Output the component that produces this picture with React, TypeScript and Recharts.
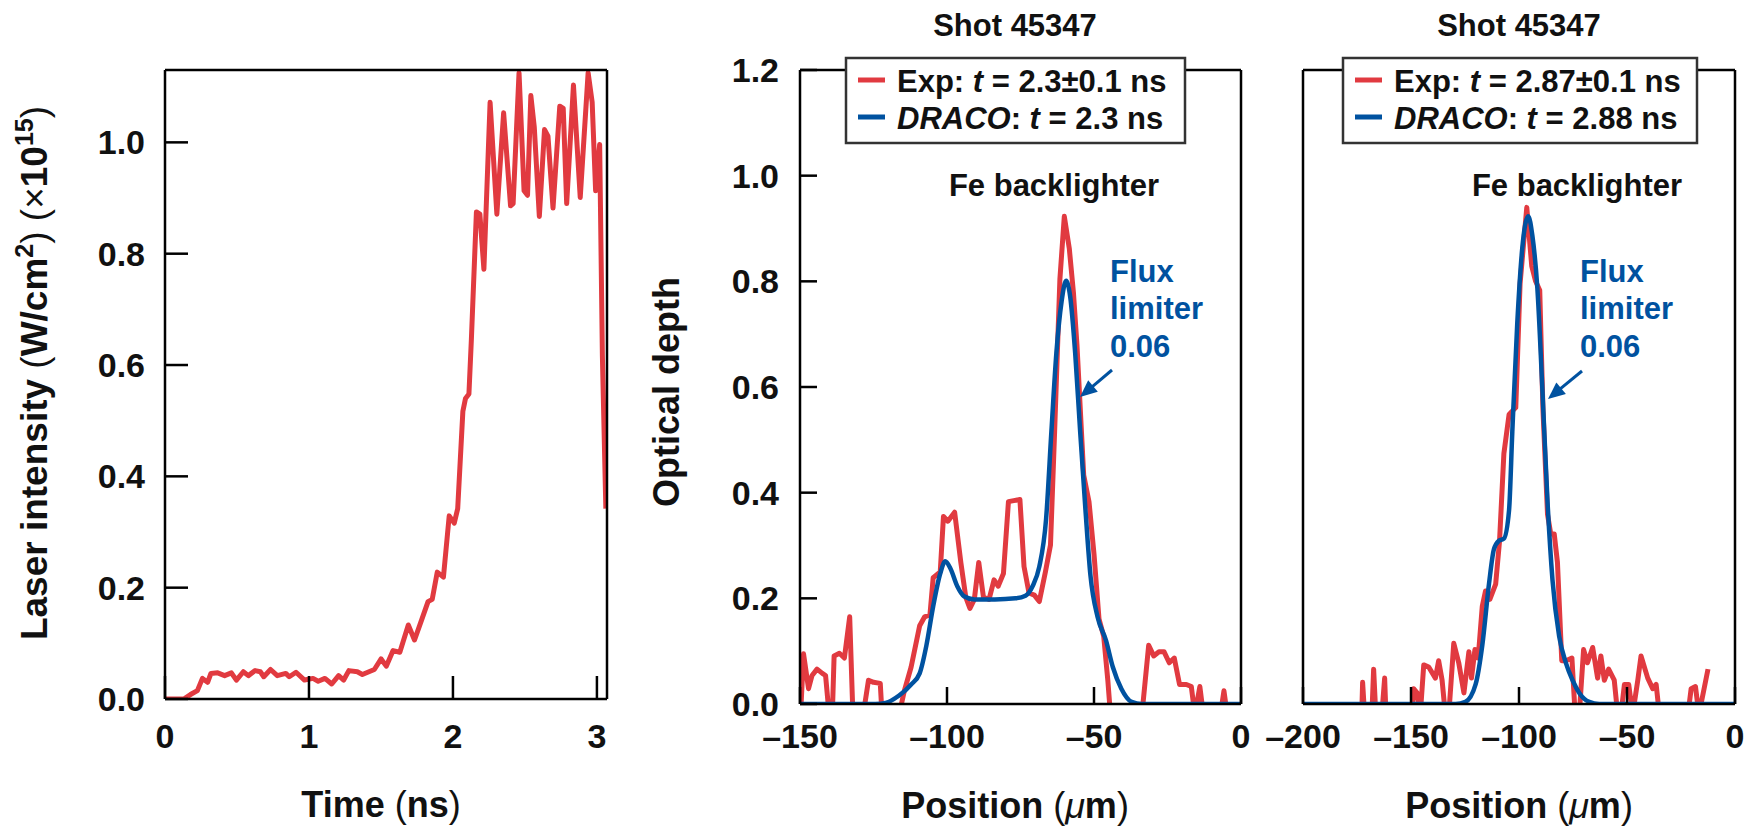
import { LineChart, Line, XAxis, YAxis } from 'recharts';

const RED = '#e13a40';
const BLUE = '#0052a0';
const FONT = '"Liberation Sans", Arial, Helvetica, sans-serif';

// Laser pulse: [time (ns), intensity (x1e15 W/cm2)]
const pulse = [
  [0, 0], [0.13, 0], [0.177, 0.008], [0.225, 0.015], [0.26, 0.037], [0.296, 0.03], [0.319, 0.046],
  [0.366, 0.047], [0.414, 0.042], [0.461, 0.047], [0.496, 0.034], [0.544, 0.049], [0.579, 0.042],
  [0.626, 0.051], [0.662, 0.049], [0.686, 0.04], [0.733, 0.053], [0.78, 0.042], [0.839, 0.046],
  [0.863, 0.04], [0.91, 0.048], [0.969, 0.034], [1.028, 0.037], [1.064, 0.032], [1.111, 0.037],
  [1.158, 0.027], [1.206, 0.042], [1.241, 0.034], [1.277, 0.051], [1.336, 0.049], [1.371, 0.044],
  [1.454, 0.053], [1.501, 0.072], [1.537, 0.059], [1.584, 0.087], [1.631, 0.084], [1.69, 0.133],
  [1.733, 0.106], [1.785, 0.144], [1.827, 0.175], [1.856, 0.179], [1.891, 0.228], [1.934, 0.219],
  [1.974, 0.329], [2.009, 0.316], [2.033, 0.342], [2.069, 0.517], [2.087, 0.54], [2.111, 0.548],
  [2.128, 0.646], [2.163, 0.875], [2.187, 0.871], [2.215, 0.772], [2.258, 1.072], [2.305, 0.871],
  [2.352, 1.053], [2.4, 0.886], [2.418, 0.89], [2.459, 1.125], [2.494, 0.913], [2.518, 0.905],
  [2.541, 1.084], [2.565, 1.027], [2.6, 0.867], [2.636, 1.023], [2.66, 1.011], [2.695, 0.882],
  [2.742, 1.065], [2.766, 1.061], [2.79, 0.89], [2.837, 1.103], [2.884, 0.901], [2.939, 1.125],
  [2.967, 1.072], [2.991, 0.913], [3.019, 0.996], [3.038, 0.616], [3.062, 0.342],
];

// Shot 45347, t = 2.3 ns: [position (um), optical depth]
const exp23 = [
  [-149.8, -0.02], [-148.8, 0.095], [-147.1, 0.029], [-145.9, 0.054], [-144.2, 0.066], [-142.4, 0.058],
  [-141.3, 0.054], [-140.1, -0.02], [-139.0, -0.02], [-138.4, 0.091], [-136.6, 0.096], [-134.9, 0.087],
  [-133.1, 0.165], [-132.0, -0.02], [-128.5, -0.02], [-126.7, 0.045], [-125.0, 0.041], [-122.7, 0.039],
  [-122.1, -0.02], [-116.3, -0.02], [-114.5, 0.025], [-112.2, 0.07], [-109.3, 0.148], [-107.6, 0.165],
  [-105.8, 0.169], [-104.7, 0.239], [-102.3, 0.25], [-101.2, 0.355], [-99.7, 0.346], [-97.4, 0.363],
  [-95.3, 0.268], [-93.6, 0.202], [-92.2, 0.181], [-90.7, 0.198], [-89.2, 0.268], [-87.6, 0.202],
  [-85.7, 0.198], [-84.0, 0.235], [-82.6, 0.223], [-80.8, 0.247], [-79.1, 0.383], [-77.3, 0.385],
  [-75.2, 0.387], [-73.8, 0.26], [-72.1, 0.21], [-70.3, 0.206], [-68.6, 0.194], [-66.5, 0.251],
  [-64.8, 0.301], [-63.4, 0.515], [-61.6, 0.804], [-60.1, 0.923], [-58.4, 0.862], [-57.0, 0.779],
  [-55.8, 0.68], [-53.5, 0.433], [-51.7, 0.383], [-50.0, 0.284], [-48.3, 0.161], [-46.7, 0.128],
  [-45.3, 0.045], [-44.4, -0.02], [-33.7, -0.02], [-31.4, 0.111], [-29.7, 0.091], [-27.9, 0.099],
  [-26.2, 0.099], [-24.4, 0.078], [-22.7, 0.087], [-20.9, 0.037], [-18.6, 0.037], [-16.9, 0.033],
  [-15.7, -0.02], [-14.0, 0.033], [-12.8, -0.02], [-7.0, -0.02], [-5.8, 0.025], [-4.7, -0.02],
];

const draco23 = [
  [-150, 0], [-124.4, 0], [-120.9, 0.002], [-116.3, 0.016], [-112.2, 0.037], [-109.3, 0.058],
  [-107.0, 0.111], [-104.7, 0.185], [-102.3, 0.247], [-100.6, 0.27], [-98.8, 0.256], [-96.5, 0.223],
  [-94.2, 0.204], [-90.7, 0.198], [-83.7, 0.198], [-76.7, 0.2], [-73.3, 0.205], [-70.9, 0.223],
  [-68.6, 0.26], [-66.3, 0.35], [-64.5, 0.515], [-62.8, 0.664], [-61.0, 0.763], [-59.5, 0.801],
  [-58.1, 0.771], [-56.4, 0.664], [-54.7, 0.515], [-52.9, 0.367], [-51.2, 0.243], [-48.8, 0.165],
  [-45.9, 0.12], [-43.6, 0.07], [-40.7, 0.029], [-37.2, 0.004], [-33.7, 0], [0, 0],
];

// Shot 45347, t = 2.87 ns
const exp287 = [
  [-172.8, -0.02], [-172.4, 0.041], [-171.5, -0.02], [-168.1, -0.02], [-167.3, 0.066], [-166.3, -0.02],
  [-163.5, -0.02], [-162.2, 0.049], [-161.6, -0.02], [-149.5, -0.02], [-148.8, 0.029], [-147.2, 0.021],
  [-145.7, -0.02], [-144.1, 0.074], [-141.8, 0.07], [-138.7, 0.049], [-137.2, 0.082], [-135.6, 0.045],
  [-134.1, -0.02], [-132.5, -0.02], [-130.2, 0.115], [-127.9, 0.078], [-125.5, 0.021], [-123.2, 0.099],
  [-122.0, 0.049], [-120.4, 0.103], [-118.9, 0.087], [-117.0, 0.185], [-115.5, 0.214], [-113.5, 0.198],
  [-110.8, 0.227], [-109.0, 0.309], [-107.0, 0.474], [-104.6, 0.548], [-101.5, 0.561], [-99.5, 0.796],
  [-96.4, 0.94], [-94.1, 0.829], [-92.3, 0.8], [-90.4, 0.783], [-88.9, 0.556], [-86.8, 0.359],
  [-85.3, 0.322], [-83.7, 0.322], [-82.2, 0.268], [-80.2, 0.082], [-78.3, 0.082], [-75.5, 0.087],
  [-74.0, -0.02], [-72.1, -0.02], [-70.1, 0.103], [-68.3, 0.078], [-65.9, 0.107], [-63.6, 0.049],
  [-62.1, 0.091], [-60.5, 0.045], [-58.5, 0.066], [-55.9, 0.045], [-54.3, -0.02], [-52.8, -0.02],
  [-51.2, 0.037], [-49.2, 0.037], [-47.4, -0.02], [-45.0, 0.045], [-43.5, 0.091], [-40.4, 0.049],
  [-38.1, 0.029], [-36.5, 0.037], [-35.0, -0.02], [-21.8, -0.02], [-20.3, 0.029], [-18.3, 0.033],
  [-16.7, -0.02], [-12.5, 0.066],
];

const draco288 = [
  [-200, 0], [-129.4, 0], [-124.8, 0.004], [-120.1, 0.037], [-117.0, 0.111], [-113.9, 0.227],
  [-111.6, 0.293], [-109.3, 0.309], [-107.0, 0.313], [-104.6, 0.367], [-103.1, 0.515], [-100.8, 0.721],
  [-98.5, 0.862], [-95.7, 0.923], [-93.8, 0.886], [-91.5, 0.787], [-89.2, 0.598], [-86.8, 0.383],
  [-84.5, 0.235], [-81.4, 0.128], [-78.3, 0.078], [-75.2, 0.045], [-72.1, 0.021], [-67.5, 0.004],
  [-62.8, 0], [0, 0],
];

const timeTicks = [0, 1, 2, 3];
const intensityTicks = [0, 0.2, 0.4, 0.6, 0.8, 1.0];
const depthTicks = [0, 0.2, 0.4, 0.6, 0.8, 1.0, 1.2];
const posTicks150 = [-150, -100, -50, 0];
const posTicks200 = [-200, -150, -100, -50, 0];

const toPoints = (rows: number[][]) => rows.map(([x, y]) => ({ x, y }));
const fmtX = (v: number) => (v < 0 ? '\u2013' + Math.abs(v) : String(v));
const fmtY = (v: number) => v.toFixed(1);

type Series = { rows: number[][]; color: string; width: number; smooth?: boolean };

interface PanelProps {
  left: number;
  width: number;
  margin: { top: number; right: number; bottom: number; left: number };
  yWidth: number;
  xDomain: number[];
  xTicks: number[];
  yDomain: number[];
  yTicks: number[];
  yLabels: boolean;
  tickLen: number;
  xTickMargin: number;
  yTickMargin: number;
  series: Series[];
}

function Panel(p: PanelProps) {
  const tickStyle = { fill: '#111', fontSize: 34, fontWeight: 700, fontFamily: FONT };
  const axisLine = { stroke: '#000', strokeWidth: 2.5 };
  const tickLine = { stroke: '#000', strokeWidth: 2.5 };
  return (
    <div style={{ position: 'absolute', left: p.left, top: 0 }}>
      <LineChart width={p.width} height={826} margin={p.margin}>
        <XAxis xAxisId="b" type="number" dataKey="x" orientation="bottom" domain={p.xDomain} ticks={p.xTicks}
          interval={0} allowDataOverflow height={60} tickSize={-p.tickLen} tickMargin={p.xTickMargin}
          tick={tickStyle} tickFormatter={fmtX} axisLine={axisLine} tickLine={tickLine} />
        <XAxis xAxisId="t" type="number" dataKey="x" orientation="top" domain={p.xDomain} ticks={p.xTicks}
          interval={0} allowDataOverflow height={20} tickSize={-p.tickLen} tick={false}
          axisLine={axisLine} tickLine={tickLine} />
        <YAxis yAxisId="l" type="number" orientation="left" domain={p.yDomain} ticks={p.yTicks} interval={0}
          allowDataOverflow width={p.yWidth} tickSize={-p.tickLen} tickMargin={p.yTickMargin}
          tick={p.yLabels ? tickStyle : false} tickFormatter={fmtY} axisLine={axisLine} tickLine={tickLine} />
        <YAxis yAxisId="r" type="number" orientation="right" domain={p.yDomain} ticks={p.yTicks} interval={0}
          allowDataOverflow width={10} tickSize={-p.tickLen} tick={false} axisLine={axisLine} tickLine={tickLine} />
        {p.series.map((s, i) => (
          <Line key={i} xAxisId="b" yAxisId="l" data={toPoints(s.rows)} dataKey="y"
            type={s.smooth ? 'monotone' : 'linear'} stroke={s.color} strokeWidth={s.width}
            strokeLinejoin="round" dot={false} activeDot={false} isAnimationActive={false} />
        ))}
      </LineChart>
    </div>
  );
}

function Arrow({ x1, y1, x2, y2 }: { x1: number; y1: number; x2: number; y2: number }) {
  const dx = x2 - x1;
  const dy = y2 - y1;
  const len = Math.hypot(dx, dy);
  const ux = dx / len;
  const uy = dy / len;
  const hl = 17;
  const hw = 7.5;
  const bx = x2 - ux * hl;
  const by = y2 - uy * hl;
  const pts = `${x2},${y2} ${bx - uy * hw},${by + ux * hw} ${bx + uy * hw},${by - ux * hw}`;
  return (
    <g>
      <line x1={x1} y1={y1} x2={bx + ux * 2} y2={by + uy * 2} stroke={BLUE} strokeWidth={3} />
      <polygon points={pts} fill={BLUE} />
    </g>
  );
}

function LegendBox({ x, w, exp, sim }: { x: number; w: number; exp: string; sim: string }) {
  return (
    <g>
      <rect x={x} y={58} width={w} height={85} fill="#fff" stroke="#333" strokeWidth={2.5} />
      <line x1={x + 12} x2={x + 39} y1={80} y2={80} stroke={RED} strokeWidth={5} />
      <line x1={x + 12} x2={x + 39} y1={117} y2={117} stroke={BLUE} strokeWidth={5} />
      <text x={x + 51} y={92}>
        Exp: <tspan fontStyle="italic">t</tspan> = {exp}
      </text>
      <text x={x + 51} y={129}>
        <tspan fontStyle="italic">DRACO</tspan>: <tspan fontStyle="italic">t</tspan> = {sim}
      </text>
    </g>
  );
}

function Annotations() {
  return (
    <svg width={1753} height={826} style={{ position: 'absolute', left: 0, top: 0, pointerEvents: 'none' }}
      fontFamily={FONT} fontWeight={700} fill="#111">
      <g fontSize={31}>
        <text x={1015} y={36} textAnchor="middle">Shot 45347</text>
        <text x={1519} y={36} textAnchor="middle">Shot 45347</text>
        <LegendBox x={846} w={339} exp={'2.3\u00b10.1 ns'} sim="2.3 ns" />
        <LegendBox x={1343} w={354} exp={'2.87\u00b10.1 ns'} sim="2.88 ns" />
        <text x={1054} y={196} textAnchor="middle">Fe backlighter</text>
        <text x={1577} y={196} textAnchor="middle">Fe backlighter</text>
        {[1110, 1580].map((fx) => (
          <g key={fx} fill={BLUE}>
            <text x={fx} y={282}>Flux</text>
            <text x={fx} y={319}>limiter</text>
            <text x={fx} y={357}>0.06</text>
          </g>
        ))}
      </g>
      <Arrow x1={1112} y1={370} x2={1080} y2={397} />
      <Arrow x1={1582} y1={371} x2={1548} y2={399} />
      <g fontSize={36}>
        <text x={381} y={817} textAnchor="middle">
          Time <tspan fontWeight={400}>(</tspan>ns<tspan fontWeight={400}>)</tspan>
        </text>
        {[1015, 1519].map((cx) => (
          <text key={cx} x={cx} y={818} textAnchor="middle">
            Position <tspan fontWeight={400}>(</tspan><tspan fontWeight={400} fontStyle="italic">{'\u03bc'}</tspan>m<tspan fontWeight={400}>)</tspan>
          </text>
        ))}
        <text transform="translate(47,373) rotate(-90)" textAnchor="middle" fontSize={37}>
          Laser intensity <tspan fontWeight={400}>(</tspan>W/cm<tspan fontSize={25} dy={-14}>2</tspan>
          <tspan dy={14} fontWeight={400}>) (</tspan><tspan fontWeight={400}>{'\u00d7'}</tspan>10
          <tspan fontSize={25} dy={-14}>15</tspan><tspan dy={14} fontWeight={400}>)</tspan>
        </text>
        <text transform="translate(679,392) rotate(-90)" textAnchor="middle">Optical depth</text>
      </g>
    </svg>
  );
}

export default function App() {
  return (
    <div style={{ position: 'absolute', left: 0, top: 0, width: 1753, height: 826, background: '#fff', overflow: 'hidden' }}>
      <Panel left={0} width={640} margin={{ top: 50, right: 23, bottom: 67, left: 45 }} yWidth={120}
        xDomain={[0, 3.07]} xTicks={timeTicks} yDomain={[0, 1.13]} yTicks={intensityTicks} yLabels
        tickLen={23} xTickMargin={48} yTickMargin={43}
        series={[{ rows: pulse, color: RED, width: 5 }]} />
      <Panel left={640} width={620} margin={{ top: 50, right: 9, bottom: 62, left: 40 }} yWidth={120}
        xDomain={[-150, 0]} xTicks={posTicks150} yDomain={[0, 1.2]} yTicks={depthTicks} yLabels
        tickLen={17} xTickMargin={37} yTickMargin={38}
        series={[
          { rows: exp23, color: RED, width: 5 },
          { rows: draco23, color: BLUE, width: 4.5, smooth: true },
        ]} />
      <Panel left={1260} width={493} margin={{ top: 50, right: 8, bottom: 62, left: 23 }} yWidth={20}
        xDomain={[-200, 0]} xTicks={posTicks200} yDomain={[0, 1.2]} yTicks={depthTicks} yLabels={false}
        tickLen={17} xTickMargin={37} yTickMargin={38}
        series={[
          { rows: exp287, color: RED, width: 5 },
          { rows: draco288, color: BLUE, width: 4.5, smooth: true },
        ]} />
      <Annotations />
    </div>
  );
}
